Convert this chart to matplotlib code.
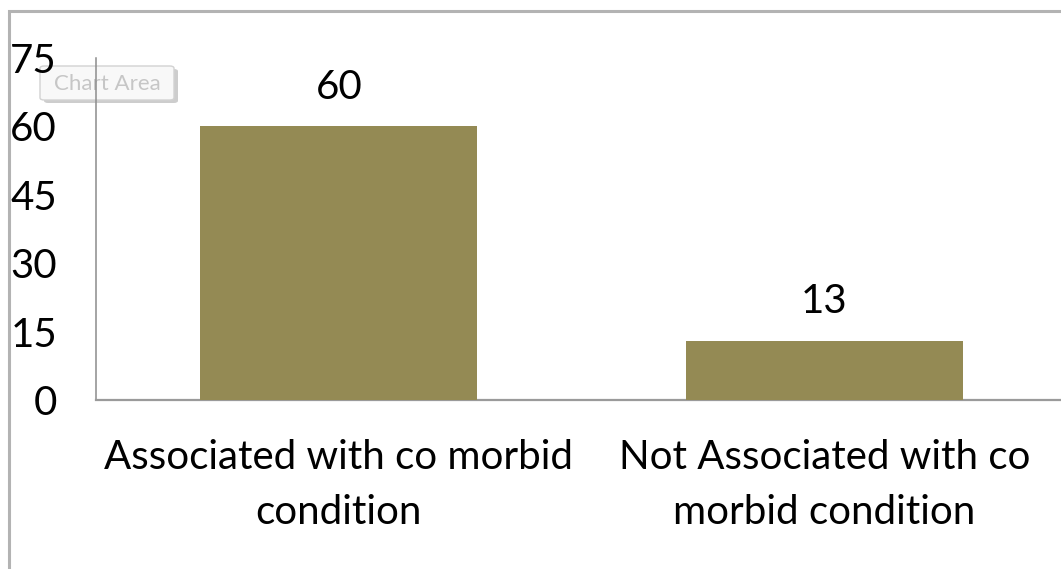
import matplotlib
matplotlib.use("Agg")
import matplotlib.pyplot as plt
from matplotlib.patches import Rectangle, FancyBboxPatch

categories = ["Associated with co morbid\ncondition",
              "Not Associated with co\nmorbid condition"]
counts = [60, 13]
yticks = [0, 15, 30, 45, 60, 75]

BAR_COLOR = "#948A54"
AXIS_COLOR = "#8c8c8c"

plt.rcParams["font.family"] = ["Lato", "DejaVu Sans"]

W, H = 1061, 569
fig = plt.figure(figsize=(W / 100, H / 100), dpi=100)
fig.patch.set_facecolor("white")

# outer chart frame, only top and left edges fall inside the image
fig.patches.append(Rectangle((9 / W, -0.2), 1.2, (H - 11) / H + 0.2,
                             transform=fig.transFigure, fill=False,
                             edgecolor="#b3b3b3", linewidth=2.2))

ax = fig.add_axes([96 / W, 169 / H, 971 / W, 342 / H])
x = range(len(categories))
ax.bar(x, counts, width=0.57, color=BAR_COLOR, zorder=3)
ax.set_xlim(-0.5, 1.5)
ax.set_ylim(0, 75)
ax.set_yticks(yticks)
ax.set_xticks(list(x))
ax.set_xticklabels(categories, fontsize=29, linespacing=1.62)
ax.tick_params(axis="y", length=0, pad=28, labelsize=29)
ax.tick_params(axis="x", length=0, pad=28)

for s in ["top", "right"]:
    ax.spines[s].set_visible(False)
ax.spines["left"].set_color(AXIS_COLOR)
ax.spines["left"].set_linewidth(1.1)
ax.spines["bottom"].set_color("#9a9a9a")
ax.spines["bottom"].set_linewidth(1.6)
ax.spines["bottom"].set_clip_on(False)

for xi, v in zip(x, counts):
    ax.annotate(str(v), (xi, v), xytext=(0, 15), textcoords="offset points",
                ha="center", va="bottom", fontsize=29)

# Excel hover tooltip over the chart area (box, drop shadow, label)
px = fig.transFigure.inverted()
def fig_box(x0, y0, w, h, **kw):
    (fx, fy), (fx1, fy1) = px.transform([(x0, H - y0 - h), (x0 + w, H - y0)])
    return FancyBboxPatch((fx, fy), fx1 - fx, fy1 - fy,
                          boxstyle="round,pad=0,rounding_size=0.004",
                          transform=fig.transFigure, clip_on=False, **kw)

ax.add_artist(fig_box(44, 69, 134, 34, facecolor="#cdcdcd",
                      edgecolor="none", zorder=0.4))
ax.add_artist(fig_box(40, 66, 134, 34, facecolor="#f8f8f8",
                      edgecolor="#d2d2d2", linewidth=1, zorder=0.5))
ax.text(107 / W, (H - 84) / H, "Chart Area", transform=fig.transFigure,
        fontsize=16, color="#c6c6c6", va="center", ha="center", zorder=1)

fig.savefig("out.png", dpi=100)
